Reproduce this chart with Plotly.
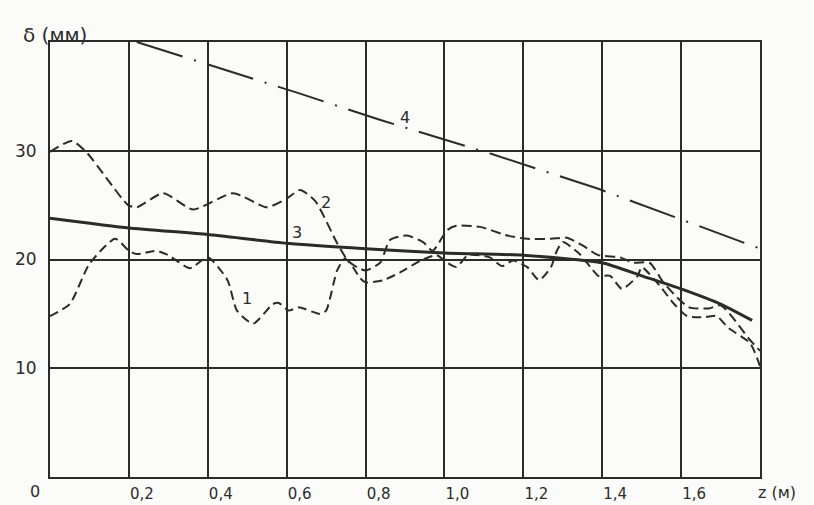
import plotly.graph_objects as go

# ---- data ----
x_tick_vals = [0.2, 0.4, 0.6, 0.8, 1.0, 1.2, 1.4, 1.6]
x_tick_text = ["0,2", "0,4", "0,6", "0,8", "1,0", "1,2", "1,4", "1,6"]
y_tick_vals = [10, 20, 30]
y_tick_text = ["10", "20", "30"]

curve1_z = [0.0, 0.05, 0.10, 0.165, 0.20, 0.22, 0.27, 0.30, 0.355, 0.40, 0.45, 0.474, 0.515,
            0.565, 0.58, 0.605, 0.63, 0.685, 0.70, 0.728, 0.748, 0.768, 0.786, 0.80, 0.845,
            0.887, 0.94, 0.98, 1.007, 1.03, 1.06, 1.115, 1.146, 1.174, 1.21, 1.24, 1.27,
            1.285, 1.30, 1.34, 1.37, 1.39, 1.42, 1.45, 1.49, 1.50, 1.55, 1.58, 1.615, 1.66,
            1.69, 1.72, 1.775, 1.80]
curve1_d = [14.8, 15.9, 19.6, 21.9, 20.8, 20.5, 20.8, 20.4, 19.2, 20.2, 18.1, 15.3, 14.1,
            15.9, 16.0, 15.3, 15.6, 15.0, 15.3, 19.0, 20.1, 19.3, 18.3, 17.9, 18.1,
            18.8, 19.9, 20.4, 19.7, 19.3, 20.4, 20.2, 19.4, 19.9, 19.3, 18.1, 19.3,
            20.8, 21.6, 20.6, 19.3, 18.5, 18.5, 17.3, 18.5, 19.3, 17.4, 16.0, 14.8, 14.7,
            14.8, 13.7, 12.3, 10.2]

curve2_z = [0.0, 0.056, 0.094, 0.147, 0.198, 0.22, 0.287, 0.363, 0.464, 0.55, 0.60, 0.634,
            0.672, 0.728, 0.755, 0.778, 0.80, 0.837, 0.862, 0.905, 0.946, 0.97, 1.007, 1.03,
            1.09, 1.16, 1.21, 1.27, 1.31, 1.35, 1.39, 1.445, 1.48, 1.52, 1.555, 1.59, 1.62,
            1.67, 1.70, 1.73, 1.77, 1.80]
curve2_d = [29.9, 30.9, 29.8, 27.3, 25.0, 24.8, 26.1, 24.6, 26.1, 24.8, 25.6, 26.4,
            25.4, 21.5, 19.9, 19.3, 19.0, 19.7, 21.8, 22.2, 21.6, 20.8, 22.7, 23.1,
            23.0, 22.2, 21.9, 21.9, 22.0, 21.3, 20.4, 20.2, 19.7, 19.7, 17.9, 16.5, 15.6,
            15.5, 15.8, 14.7, 12.8, 11.6]

curve3_z = [0.0, 0.2, 0.4, 0.6, 0.8, 1.0, 1.2, 1.4, 1.5, 1.6, 1.7, 1.78]
curve3_d = [23.8, 22.9, 22.3, 21.5, 21.0, 20.6, 20.4, 19.7, 18.5, 17.3, 15.9, 14.4]

curve4_z = [0.22, 0.63, 0.84, 1.12, 1.39, 1.80]
curve4_d = [40.0, 35.3, 32.8, 29.7, 26.5, 21.0]

curve_labels = ["1", "2", "3", "4"]
label_z = [0.50, 0.70, 0.627, 0.90]
label_d = [16.4, 25.2, 22.5, 33.1]

ink = "#2b2b2b"
font = "DejaVu Sans"

fig = go.Figure()
fig.add_trace(go.Scatter(x=curve1_z, y=curve1_d, mode="lines",
                         line=dict(color=ink, width=2, dash="9px,5px", shape="spline", smoothing=0.6)))
fig.add_trace(go.Scatter(x=curve2_z, y=curve2_d, mode="lines",
                         line=dict(color=ink, width=2, dash="10px,5px", shape="spline", smoothing=0.6)))
fig.add_trace(go.Scatter(x=curve3_z, y=curve3_d, mode="lines",
                         line=dict(color=ink, width=3, shape="spline", smoothing=0.5)))
fig.add_trace(go.Scatter(x=curve4_z, y=curve4_d, mode="lines",
                         line=dict(color=ink, width=2, dash="48px,12px,2px,12px")))

for t, zx, dy in zip(curve_labels, label_z, label_d):
    fig.add_annotation(x=zx, y=dy, text=t, showarrow=False,
                       font=dict(family=font, size=16, color=ink))

fig.add_annotation(x=0, y=0, xref="x", yref="y", text="0", showarrow=False,
                   xshift=-15, yshift=-14, font=dict(family=font, size=16, color=ink))
fig.add_annotation(x=0, y=1, xref="x", yref="paper", text="δ (мм)", showarrow=False,
                   xshift=5, yshift=21, font=dict(family=font, size=20, color=ink))
fig.add_annotation(x=1, y=0, xref="paper", yref="y", text="z (м)", showarrow=False,
                   xshift=-4, yshift=-15, xanchor="left", font=dict(family=font, size=16, color=ink))

fig.update_xaxes(range=[0, 1.8], tickvals=x_tick_vals, ticktext=x_tick_text,
                 showgrid=True, gridcolor=ink, gridwidth=1.5, zeroline=False,
                 showline=True, linecolor=ink, linewidth=2, mirror=True, automargin=False,
                 ticks="", ticklabelshift=13, ticklabelstandoff=2,
                 tickfont=dict(family=font, size=15, color=ink))
fig.update_yaxes(range=[0, 40], tickvals=y_tick_vals, ticktext=y_tick_text,
                 showgrid=True, gridcolor=ink, gridwidth=1.5, zeroline=False,
                 showline=True, linecolor=ink, linewidth=2, mirror=True, automargin=False,
                 ticks="", ticklabelstandoff=8,
                 tickfont=dict(family=font, size=17, color=ink))

fig.update_layout(width=814, height=505, autosize=False, showlegend=False,
                  margin=dict(l=50, r=54, t=42, b=28),
                  paper_bgcolor="#fbfbf9", plot_bgcolor="#fbfbf9")

fig.write_html("out.html", config={"responsive": False, "displayModeBar": False},
               post_script="document.body.style.margin='0';document.body.style.overflow='hidden';")
